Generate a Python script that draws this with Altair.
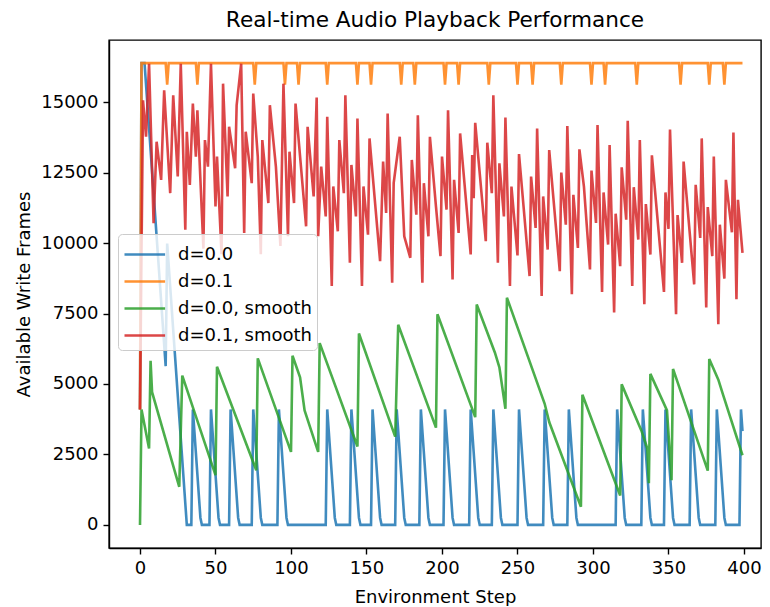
import altair as alt
import pandas as pd

series_names = ["d=0.0", "d=0.1", "d=0.0, smooth", "d=0.1, smooth"]
series_colors = ["#1f77b4", "#ff7f0e", "#2ca02c", "#d62728"]

x_ticks = [0, 50, 100, 150, 200, 250, 300, 350, 400]
y_ticks = [0, 2500, 5000, 7500, 10000, 12500, 15000]

# d=0.0 : vertices (step, available frames)
blue_steps = [0, 1, 3, 17, 18, 31,
              34, 35, 40, 41, 46, 47, 52, 53, 59, 60, 65, 66, 74, 75, 80, 81,
              91, 92, 97, 98, 123, 124, 129, 130, 139, 140, 145, 146, 153, 154, 159, 160,
              169, 170, 175, 176, 185, 186, 191, 192, 201, 202, 207, 208, 218, 219, 224, 225,
              233, 234, 239, 240, 250, 251, 256, 257, 267, 268, 273, 274, 283, 284, 289, 290,
              315, 316, 321, 322, 332, 333, 338, 339, 347, 348, 353, 354, 364, 365, 370, 371,
              381, 382, 387, 388, 397, 398, 399]
blue_vals = [4096, 16384, 16384, 5632, 9984, 0,
             0, 4096, 256, 0, 0, 4096, 256, 0, 0, 4096, 256, 0, 0, 4096, 256, 0,
             0, 4096, 256, 0, 0, 4096, 256, 0, 0, 4096, 256, 0, 0, 4096, 256, 0,
             0, 4096, 256, 0, 0, 4096, 256, 0, 0, 4096, 256, 0, 0, 4096, 256, 0,
             0, 4096, 256, 0, 0, 4096, 256, 0, 0, 4096, 256, 0, 0, 4096, 256, 0,
             0, 4096, 256, 0, 0, 4096, 256, 0, 0, 4096, 256, 0, 0, 4096, 256, 0,
             0, 4096, 256, 0, 0, 4096, 3328]

# d=0.1
orange_steps = [0, 1, 17, 18, 19, 37, 38, 39, 75, 76, 77, 95, 96, 97, 104, 105, 106,
                123, 124, 125, 143, 144, 145, 152, 153, 154, 172, 173, 174, 181, 182, 183,
                201, 202, 203, 210, 211, 212, 230, 231, 232, 249, 250, 251, 259, 260, 261,
                278, 279, 280, 298, 299, 300, 307, 308, 309, 328, 329, 330, 357, 358, 359,
                376, 377, 378, 386, 387, 388, 399]
orange_vals = [4096, 16384, 16384, 15616, 16384, 16384, 15616, 16384, 16384, 15616, 16384,
               16384, 15616, 16384, 16384, 15616, 16384, 16384, 15616, 16384, 16384, 15616, 16384,
               16384, 15616, 16384, 16384, 15616, 16384, 16384, 15616, 16384, 16384, 15616, 16384,
               16384, 15616, 16384, 16384, 15616, 16384, 16384, 15616, 16384, 16384, 15616, 16384,
               16384, 15616, 16384, 16384, 15616, 16384, 16384, 15616, 16384, 16384, 15616, 16384,
               16384, 15616, 16384, 16384, 15616, 16384, 16384, 15616, 16384, 16384]

# d=0.0, smooth
green_steps = [0, 1, 6, 7, 8, 26, 28, 50, 51, 77, 78, 100, 101, 106, 109, 118, 119, 144, 145,
               169, 171, 196, 197, 222, 223, 235, 238, 242, 243, 268, 271, 292, 293, 318, 319,
               332, 336, 337, 338, 349, 352, 353, 376, 377, 383, 386, 399]
green_vals = [0, 4096, 2708, 5826, 4707, 1353, 5297, 1766, 5614, 1942, 5908, 2590, 6003, 5237,
              4061, 2588, 6450, 2780, 6790, 3130, 7100, 3450, 7475, 3824, 7820, 6119, 5590, 4121,
              8061, 4297, 3650, 646, 4615, 1042, 4986, 3354, 2708, 1483, 5357, 4061, 1589, 5533,
              1924, 5886, 5155, 4643, 2472]

# d=0.1, smooth
red_steps = [0, 2, 4, 6, 9, 11, 14, 16, 20, 22, 25, 27, 30, 31, 33, 35, 37, 38, 42, 43, 45, 47,
             50, 51, 54, 55, 58, 59, 63, 64, 67, 69, 70, 74, 75, 78, 80, 81, 85, 86, 90, 93, 95,
             98, 99, 102, 103, 110, 111, 115, 117, 118, 120, 123, 124, 127, 128, 131, 132, 135,
             136, 139, 140, 143, 144, 147, 148, 151, 152, 159, 161, 163, 164, 167, 168, 172, 175,
             179, 180, 183, 184, 187, 188, 191, 192, 196, 199, 200, 203, 204, 207, 208, 211, 212,
             219, 220, 221, 222, 229, 230, 233, 234, 237, 238, 241, 242, 245, 246, 250, 251, 258,
             259, 262, 263, 266, 267, 270, 271, 278, 279, 282, 283, 286, 287, 290, 291, 294, 298,
             299, 302, 303, 306, 307, 310, 311, 314, 315, 318, 319, 322, 323, 326, 327, 330, 331,
             334, 335, 338, 339, 347, 348, 350, 351, 355, 356, 359, 360, 367, 368, 371, 372, 375,
             376, 379, 380, 383, 384, 387, 388, 392, 393, 395, 396, 399]
red_vals = [4096, 15066, 13771, 16361, 10700, 13595, 12241, 15419, 11770, 15243, 12359, 16361,
            10476, 13948, 12065, 14948, 13065, 14713, 9800, 13654, 12712, 16361, 11299, 13065,
            9600, 15654, 11653, 14124, 12653, 14889, 16361, 10358, 13948, 12123, 15301, 13065,
            9600, 13654, 11417, 14889, 12712, 9900, 15654, 10240, 13242, 11417, 14948, 10593,
            14124, 11653, 15160, 10240, 12712, 10946, 14477, 8475, 12006, 10417, 13654, 11770,
            15243, 9299, 12771, 10946, 14419, 8475, 12006, 10299, 13712, 9357, 12888, 11064,
            14595, 8592, 12123, 13771, 10240, 9475, 12947, 11005, 14536, 8592, 12123, 10240,
            13771, 11300, 9534, 13065, 11182, 14713, 8710, 12241, 10358, 13889, 9593, 13124,
            11594, 14266, 10064, 13559, 11770, 15243, 9299, 12830, 10946, 14454, 8475, 12006,
            9558, 13159, 8828, 12359, 10534, 14066, 8122, 11653, 9769, 13300, 9004, 12500, 10652,
            14148, 8180, 11712, 9828, 13324, 12000, 9063, 12571, 10711, 14183, 8263, 11794, 9946,
            13477, 7533, 11041, 9181, 12688, 10829, 14336, 8475, 11982, 10122, 13654, 7827,
            11382, 9593, 13112, 8263, 11794, 10499, 14030, 7474, 10994, 9299, 12889, 8533, 12064,
            10181, 13712, 7710, 11276, 9534, 13065, 7121, 10652, 8734, 12241, 10382, 13924, 8004,
            11535, 9652]

frames = []
for name, steps, vals in [
    (series_names[0], blue_steps, blue_vals),
    (series_names[1], orange_steps, orange_vals),
    (series_names[2], green_steps, green_vals),
    (series_names[3], red_steps, red_vals),
]:
    frames.append(pd.DataFrame({"step": steps, "value": vals, "series": name}))
df = pd.concat(frames, ignore_index=True)

font = "DejaVu Sans"
fs = 18

chart = (
    alt.Chart(df)
    .mark_line(strokeWidth=2.6, opacity=0.85)
    .encode(
        x=alt.X(
            "step:Q",
            scale=alt.Scale(domain=[-20.53, 411.26], nice=False, zero=False),
            axis=alt.Axis(values=x_ticks, title="Environment Step", format="d",
                          titlePadding=11),
        ),
        y=alt.Y(
            "value:Q",
            scale=alt.Scale(domain=[-819, 17203], nice=False, zero=False),
            axis=alt.Axis(values=y_ticks, title="Available Write Frames", format="d",
                          titlePadding=7),
        ),
        color=alt.Color(
            "series:N",
            scale=alt.Scale(domain=series_names, range=series_colors),
            legend=alt.Legend(
                title=None,
                orient="none",
                legendX=9,
                legendY=194,
                symbolType="M-1,0H1.9",
                symbolSize=784,
                symbolStrokeWidth=2.6,
                symbolOpacity=0.85,
                labelOffset=24,
                labelFontSize=fs,
                labelFont=font,
                labelColor="black",
                rowPadding=2,
                padding=5,
                fillColor="rgba(255,255,255,0.8)",
                strokeColor="#cccccc",
                cornerRadius=4,
            ),
        ),
    )
    .properties(
        width=652,
        height=508,
        autosize=alt.AutoSizeParams(type="none"),
        padding={"left": 101, "top": 32, "right": 1, "bottom": 58},
        title=alt.Title(
            "Real-time Audio Playback Performance",
            fontSize=21.6,
            fontWeight="normal",
            font=font,
            color="black",
            anchor="middle",
            offset=8,
        ),
    )
    .configure_view(stroke="black", strokeWidth=1.4)
    .configure_axis(
        grid=False,
        domainColor="black",
        domainWidth=1.4,
        tickColor="black",
        tickWidth=1.4,
        tickSize=6,
        labelPadding=5,
        labelFont=font,
        labelFontSize=fs,
        labelColor="black",
        titleFont=font,
        titleFontSize=fs,
        titleFontWeight="normal",
        titleColor="black",
    )
)

chart.save("out.html", embed_options={"renderer": "svg", "actions": False})
